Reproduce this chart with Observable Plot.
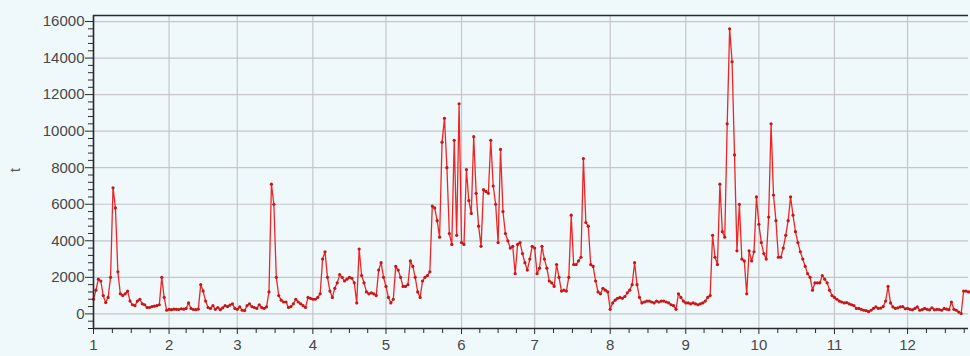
<!DOCTYPE html>
<html>
<head>
<meta charset="utf-8">
<script src="https://cdn.jsdelivr.net/npm/d3@7"></script>
<script src="https://cdn.jsdelivr.net/npm/@observablehq/plot@0.6"></script>
<style>
  html, body { margin: 0; padding: 0; background: #eff9fc; }
  #chart svg { display: block; }
</style>
</head>
<body>
<div id="chart"></div>
<script>
// Month starts (day of year) and labels
const monthStarts = [0, 31, 59, 90, 120, 151, 181, 212, 243, 273, 304, 334];
const monthLengths = [31, 28, 31, 30, 31, 30, 31, 31, 30, 31, 30, 31];
const monthLabels = ["1", "2", "3", "4", "5", "6", "7", "8", "9", "10", "11", "12"];
const yTicks = [0, 2000, 4000, 6000, 8000, 10000, 12000, 14000, 16000];
const yLabel = "t";

// Daily values of t, day 0 = 1 January
const tValues = [
  800, 1300, 1900, 1800, 1000, 620, 900, 2000, 6900, 5800,
  2300, 1100, 1000, 1100, 1250, 700, 500, 450, 700, 800,
  550, 500, 350, 350, 400, 420, 450, 500, 2000, 900,
  200, 250, 230, 260, 250, 240, 280, 260, 300, 600,
  300, 240, 230, 260, 1600, 1250, 700, 350, 300, 450,
  250, 350, 230, 330, 450, 400, 480, 550, 300, 250,
  380, 200, 180, 450, 550, 400, 350, 300, 500, 350,
  300, 380, 1200, 7100, 6000, 2000, 1000, 750, 650, 650,
  350, 400, 550, 800, 650, 550, 450, 350, 900, 850,
  800, 800, 900, 1100, 3000, 3400, 2000, 1250, 900, 1400,
  1700, 2150, 2000, 1800, 1900, 2000, 1950, 1700, 600, 3550,
  2100, 1700, 1200, 1100, 1150, 1100, 1000, 2400, 2800, 2000,
  1500, 900, 600, 800, 2600, 2400, 2000, 1500, 1500, 1600,
  2900, 2600, 2000, 1200, 900, 1800, 2000, 2100, 2300, 5900,
  5800, 5100, 4200, 9400, 10700, 8000, 4400, 3800, 9500, 4300,
  11500, 3900, 3800, 7900, 6200, 5500, 9700, 6600, 4800, 3700,
  6800, 6700, 6600, 9500, 7000, 6000, 3900, 9000, 5600, 4400,
  4000, 3600, 3700, 2200, 3800, 3900, 3300, 2800, 2400, 3000,
  3700, 3600, 2200, 2500, 3700, 3000, 2500, 1800, 1700, 1500,
  2700, 2000, 1250, 1300, 1250, 2000, 5400, 2700, 2700, 2900,
  3100, 8500, 5000, 4800, 2700, 2600, 1800, 1200, 1100, 1400,
  1300, 1200, 250, 600, 750, 850, 900, 850, 950, 1150,
  1300, 1600, 2800, 1600, 900, 600, 650, 700, 700, 650,
  600, 700, 650, 700, 700, 650, 600, 500, 450, 250,
  1100, 900, 700, 600, 600, 550, 600, 550, 500, 550,
  600, 700, 900, 1000, 4300, 3100, 2700, 7100, 4500, 4200,
  10400, 15600, 13800, 8700, 3450, 6000, 3000, 2900, 1100, 3450,
  2900, 3400, 6400, 4900, 3900, 3300, 3000, 5300, 10400, 6500,
  5100, 3100, 3100, 3600, 4300, 5100, 6400, 5400, 4500, 3900,
  3400, 3000, 2600, 2200, 2000, 1300, 1700, 1700, 1700, 2100,
  1900, 1700, 1300, 1000, 900, 800, 700, 650, 600, 620,
  550, 500, 450, 300, 300, 250, 200, 180, 120, 200,
  300, 380, 300, 320, 400, 700, 1500, 600, 380, 300,
  330, 380, 400, 280, 300, 250, 220, 300, 380, 200,
  230, 300, 250, 220, 330, 220, 250, 240, 200, 300,
  260, 230, 650, 250, 200, 100, 20, 1250, 1250, 1200
];

const data = tValues.map((t, day) => ({day, t}));

const xDomain = [0, 359];
const yDomain = [-800, 16330];

// minor ticks: quarters of each month, 400-unit steps on y
const xMinor = [];
monthStarts.forEach((s, i) => {
  for (let k = 1; k < 4; k++) xMinor.push(s + monthLengths[i] * k / 4);
});
const yMinor = d3.range(-800, 16001, 400).filter(v => v % 2000 !== 0);

const axisColor = "#2a2a2a";
const gridColor = "#c4c6c8";

const chart = Plot.plot({
  width: 970,
  height: 356,
  marginLeft: 93,
  marginRight: 2,
  marginTop: 15,
  marginBottom: 28,
  style: {background: "#eff9fc", fontFamily: "'Liberation Sans', Arial, sans-serif", fontSize: "15px", color: "#444"},
  x: {domain: xDomain, axis: null},
  y: {domain: yDomain, axis: null},
  marks: [
    Plot.gridX(monthStarts, {stroke: gridColor, strokeOpacity: 1, strokeWidth: 1.2}),
    Plot.gridY(yTicks, {stroke: gridColor, strokeOpacity: 1, strokeWidth: 1.2}),
    Plot.line(data, {x: "day", y: "t", stroke: "#f02424", strokeWidth: 1.3}),
    Plot.dot(data, {x: "day", y: "t", r: 1.6, fill: "#c81616", stroke: "none"}),
    Plot.ruleX([xDomain[0]], {stroke: axisColor, strokeWidth: 1.6}),
    Plot.ruleY([yDomain[0]], {stroke: axisColor, strokeWidth: 1.6}),
    Plot.ruleY([yDomain[1]], {stroke: axisColor, strokeWidth: 1.6}),
    Plot.axisY(yTicks, {anchor: "left", tickSize: 8, tickPadding: 1, stroke: axisColor, fill: "#474747", fontSize: 15, label: null,
      tickFormat: d => String(d)}),
    Plot.axisY(yMinor, {anchor: "left", tickSize: 5, stroke: axisColor, text: null, label: null}),
    Plot.axisX(monthStarts, {anchor: "bottom", tickSize: 6, tickPadding: 5, stroke: axisColor, fill: "#474747", fontSize: 15, label: null,
      tickFormat: d => monthLabels[monthStarts.indexOf(d)]}),
    Plot.axisX(xMinor, {anchor: "bottom", tickSize: 5, stroke: axisColor, text: null, label: null})
  ]
});

const svg = d3.select(chart);
svg.append("text")
  .attr("transform", "translate(20,170) rotate(-90)")
  .attr("text-anchor", "middle")
  .attr("font-size", 14)
  .attr("fill", "#555")
  .text(yLabel);

document.getElementById("chart").appendChild(chart);
</script>
</body>
</html>
